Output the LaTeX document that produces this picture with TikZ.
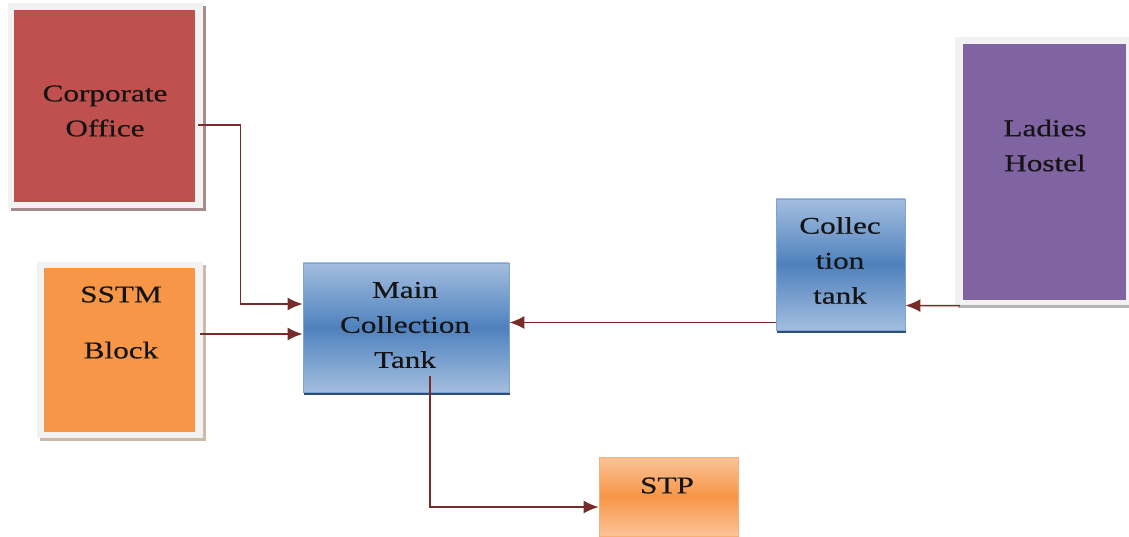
\documentclass[tikz,border=0pt]{standalone}
\usepackage{fontspec}
\setmainfont{Liberation Serif}[FakeStretch=1.3,FakeBold=0.4]
\usetikzlibrary{arrows.meta,calc}
\definecolor{framegray}{HTML}{F2F2F2}
\definecolor{redfill}{HTML}{C0504D}
\definecolor{orangefill}{HTML}{F79646}
\definecolor{purplefill}{HTML}{8064A2}
\definecolor{bluelight}{HTML}{A3BEDF}
\definecolor{bluedark}{HTML}{4F81BD}
\definecolor{blueborder}{HTML}{7EA3D0}
\definecolor{blueshadow}{HTML}{2E4E78}
\definecolor{orangelight}{HTML}{FBC49A}
\definecolor{orangeborder}{HTML}{F8AE72}
\definecolor{conncol}{HTML}{772C2A}
\definecolor{redshadow}{HTML}{A88C8C}
\definecolor{orangeshadow}{HTML}{CDBBAA}
\definecolor{grayshadow}{HTML}{B4B4B4}
\definecolor{textcol}{HTML}{141414}
\begin{document}
\begin{tikzpicture}[x=1pt,y=-1pt,
  framebox/.style={fill=framegray,draw=none,inner sep=0pt,
    minimum width=#1},
  frameshadow/.style={preaction={fill=#1,transform canvas={xshift=2.5pt,yshift=-3pt}}},
  flatbox/.style={draw=none,inner sep=0pt},
  bluebox/.style={draw=blueborder,line width=0.8pt,inner sep=0pt,
    top color=bluelight,bottom color=bluelight,middle color=bluedark,
    preaction={fill=blueshadow,transform canvas={xshift=1pt,yshift=-3pt}}},
  orangebox/.style={draw=orangeborder,line width=0.8pt,inner sep=0pt,
    top color=orangelight,bottom color=orangelight,middle color=orangefill},
  txt/.style={align=center,text=textcol,inner sep=0pt,
    font=\fontsize{24}{35}\selectfont},
  conn/.style={draw=conncol,line width=1.6pt,
    -{Latex[length=15pt,width=13pt]}}]
\useasboundingbox (0,0) rectangle (1129,537);
\fill[white] (0,0) rectangle (1129,537);

% Corporate Office
\node[framebox=195pt,minimum height=205pt,frameshadow=redshadow] (corpF) at (105.5,105.5) {};
\node[flatbox,fill=redfill,minimum width=181pt,minimum height=192pt] (corp) at (104.5,106) {};
\node[txt] (corpT) at (105,111) {Corporate\\Office};

% SSTM Block
\node[framebox=166pt,minimum height=176pt,frameshadow=orangeshadow] (sstmF) at (120,350) {};
\node[flatbox,fill=orangefill,minimum width=151pt,minimum height=164pt] (sstm) at (119.5,350) {};
\node[txt] (sstmT) at (121,322.5) {SSTM\\[21pt]Block};

% Ladies Hostel
\node[framebox=176pt,minimum height=268pt,frameshadow=grayshadow] (ladF) at (1043,171) {};
\node[flatbox,fill=purplefill,minimum width=163pt,minimum height=256pt] (lad) at (1044.5,172) {};
\node[txt] (ladT) at (1045,145.5) {Ladies\\Hostel};

% Main Collection Tank
\node[bluebox,minimum width=206pt,minimum height=129pt] (main) at (406,327.5) {};
\node[txt] (mainT) at (405,325) {Main\\Collection\\Tank};

% Collection tank
\node[bluebox,minimum width=129pt,minimum height=131pt] (ct) at (840.5,264.5) {};
\node[txt] (ctT) at (840,260.5) {Collec\\tion\\tank};

% STP
\node[orangebox,minimum width=139pt,minimum height=79pt] (stp) at (668.5,496.5) {};
\node[txt] (stpT) at (667,485.5) {STP};

% Connectors
\draw[conn] ([xshift=3pt,yshift=-19pt]corp.east) -| ([xshift=-62pt,yshift=23.5pt]main.west) -- ([yshift=23.5pt]main.west);
\draw[conn] ([xshift=5pt,yshift=16pt]sstm.east) -- ([yshift=-6.5pt]main.west);
\draw[conn] ([yshift=-58pt]ct.west) -- ([yshift=5pt]main.east);
\draw[conn] ([xshift=-3pt,yshift=-5.5pt]lad.south west) -- ([yshift=-41pt]ct.east);
\draw[conn] ([xshift=24pt,yshift=-48.5pt]main.center) |- ([yshift=-10.5pt]stp.west);
\end{tikzpicture}
\end{document}
